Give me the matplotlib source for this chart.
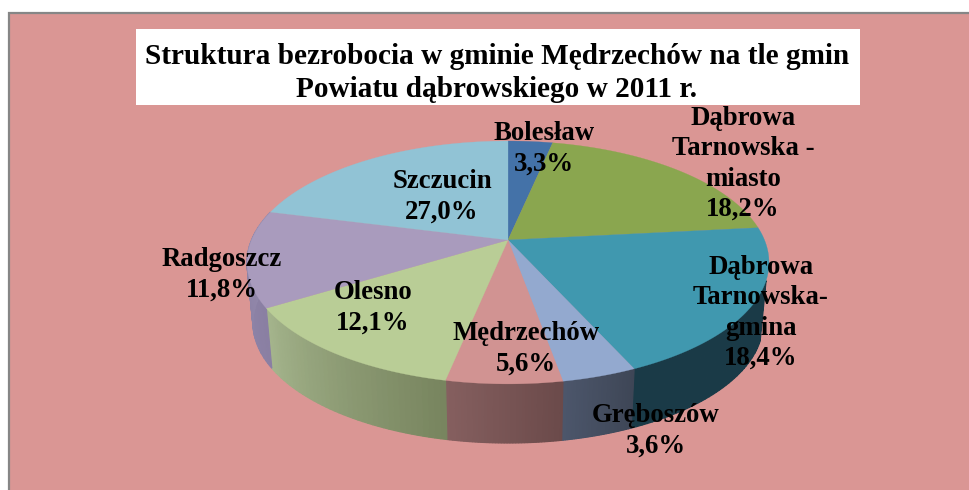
import numpy as np
import matplotlib
matplotlib.use("Agg")
import matplotlib.pyplot as plt
from matplotlib.colors import to_rgb

plt.rcParams['font.family'] = ['Liberation Serif', 'DejaVu Serif']

title = "Struktura bezrobocia w gminie Mędrzechów na tle gmin\nPowiatu dąbrowskiego w 2011 r."

names = ["Bolesław", "Dąbrowa\nTarnowska -\nmiasto", "Dąbrowa\nTarnowska-\ngmina", "Gręboszów",
         "Mędrzechów", "Olesno", "Radgoszcz", "Szczucin"]
# printed percentages
percent_labels = ["3,3%", "18,2%", "18,4%", "3,6%", "5,6%", "12,1%", "11,8%", "27,0%"]
drawn_shares = [3.3, 20.0, 20.0, 3.9, 6.0, 13.0, 12.8, 21.0]

top_colors = ["#4472a8", "#8aa64f", "#4098af", "#93a9cf", "#d19392", "#b9cd96", "#a99bbd", "#91c3d5"]
# side wall shade, right end and left end of the slice. None = wall is at the back
wall_colors = [None, None, ("#1a3a47", "#1a3a47"), ("#3e4656", "#4c566b"), ("#6b4a4a", "#855f5f"),
               ("#78855f", "#a4b48c"), ("#8a7fa3", "#9389ab"), None]
# the wall comes out from under the top only after this angle
wall_from = 109

label_pos = [(544, 149), (743, 164), (761, 313), (656, 431), (526, 349), (373, 308), (222, 275), (442, 197)]

bg = "#da9694"
apex_x, apex_y = 508, 240


def rim(theta):
    # theta in degrees clockwise from the top, perspective view of the circle
    t = np.radians(theta)
    u, v = np.sin(t), np.cos(t)
    den = 1 + 0.185 * v
    return apex_x + 256.5 * u / den, apex_y - 117.3 * v / den


def rim_bottom(theta):
    x, y = rim(theta)
    return apex_x + (x - apex_x) * 0.977, 323 + (y - 262.5) * 0.988


fig = plt.figure(figsize=(9.7, 4.9), dpi=100, facecolor="white")
ax = fig.add_axes([0, 0, 1, 1])
ax.set_xlim(0, 970)
ax.set_ylim(490, 0)
ax.axis("off")

# chart area, border on top and left only shows
ax.add_patch(plt.Rectangle((9.5, 13.5), 970, 490, facecolor=bg, edgecolor="#868686", linewidth=1.6))
ax.add_patch(plt.Rectangle((136, 29), 724, 76, facecolor="white", edgecolor="none"))
ax.text(497, 73, title, ha="center", va="center", fontsize=21.1, fontweight="bold",
        color="black", linespacing=1.26)

edges = np.concatenate([[0], np.cumsum(drawn_shares)]) * 3.6

# walls first
for i in range(len(names)):
    if wall_colors[i] is None:
        continue
    right_c = np.array(to_rgb(wall_colors[i][0]))
    left_c = np.array(to_rgb(wall_colors[i][1]))
    start = max(edges[i], wall_from)
    steps = np.linspace(start, edges[i + 1], 41)
    for j in range(40):
        th = np.linspace(steps[j], steps[j + 1], 3)
        xt, yt = rim(th)
        xb, yb = rim_bottom(th)
        c = right_c + (left_c - right_c) * j / 39
        ax.fill(np.concatenate([xt, xb[::-1]]), np.concatenate([yt, yb[::-1]]),
                facecolor=c, edgecolor=c, linewidth=0.9, zorder=2)

# top of the pie
for i in range(len(names)):
    th = np.linspace(edges[i], edges[i + 1], 80)
    x, y = rim(th)
    ax.fill(np.concatenate([[apex_x], x]), np.concatenate([[apex_y], y]),
            color=top_colors[i], linewidth=0.2, zorder=3)

for i in range(len(names)):
    ax.text(label_pos[i][0], label_pos[i][1], names[i] + "\n" + percent_labels[i], ha="center", va="center",
            fontsize=19.3, fontweight="bold", color="black", linespacing=1.27, zorder=5)

fig.savefig("out.png", dpi=100, facecolor="white")
